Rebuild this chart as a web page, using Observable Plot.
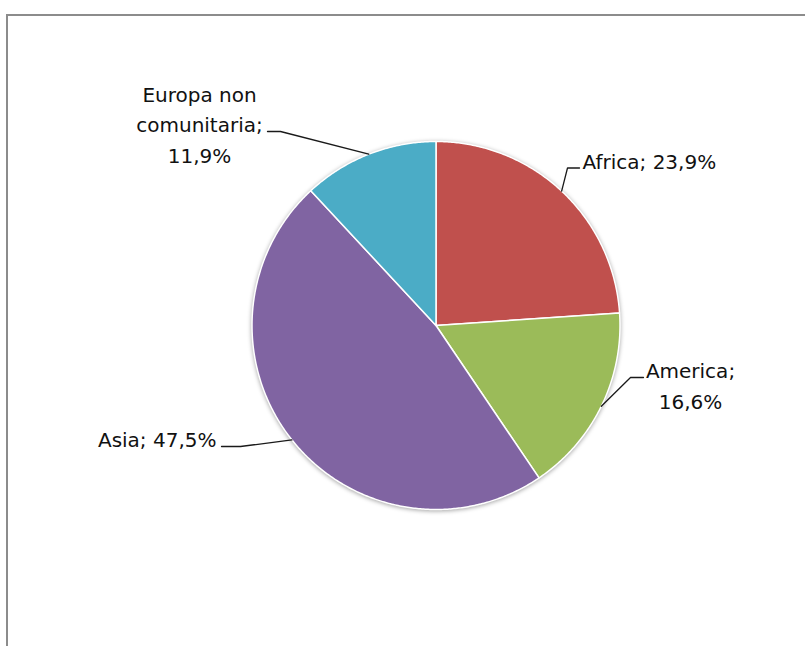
<!DOCTYPE html>
<html>
<head>
<meta charset="utf-8">
<script src="https://cdn.jsdelivr.net/npm/d3@7"></script>
<script src="https://cdn.jsdelivr.net/npm/@observablehq/plot@0.6"></script>
<style>
  html, body { margin: 0; padding: 0; background: #fff; overflow: hidden; }
  #wrap { position: relative; width: 805px; height: 646px; }
  #frame { position: absolute; left: 6px; top: 14px; width: 820px; height: 660px;
           border-left: 2px solid #8c8c8c; border-top: 2px solid #8c8c8c; box-sizing: border-box; }
  #chart { position: absolute; left: 0; top: 0; }
</style>
</head>
<body>
<div id="wrap"><div id="frame"></div><div id="chart"></div></div>
<script>
// ---- data ----
const categories = ["Africa", "America", "Asia", "Europa non comunitaria"];
const values = [23.9, 16.6, 47.5, 11.9];
const labels = ["Africa; 23,9%", "America;\n16,6%", "Asia; 47,5%", "Europa non\ncomunitaria;\n11,9%"];
const colors = ["#C0504D", "#9BBB59", "#8064A2", "#4BACC6"];

// ---- layout (pixels) ----
const cx = 435.5, cy = 325, R = 184;
const labelLayout = [
  {x: 582, y: 168, anchor: "start",  elbow: [567, 167.5], end: [579, 167.5]},
  {x: 690, y: 408, anchor: "middle", elbow: [630, 377],   end: [643, 377]},
  {x: 216, y: 446.5, anchor: "end",  elbow: [240, 446],   end: [221, 446]},
  {x: 199, y: 162, anchor: "middle", elbow: [280, 131],   end: [267, 131]}
];
const ux = px => (px - cx) / R;
const uy = py => (cy - py) / R;

// ---- geometry from data ----
const total = d3.sum(values);
let acc = 0;
const slices = values.map((v, i) => {
  const a0 = acc / total * 2 * Math.PI;
  acc += v;
  const a1 = acc / total * 2 * Math.PI;
  return {category: categories[i], a0, a1, mid: (a0 + a1) / 2};
});
const slicePts = [];
slices.forEach(s => {
  slicePts.push({category: s.category, x: 0, y: 0});
  const n = Math.max(4, Math.ceil((s.a1 - s.a0) / (Math.PI / 360)));
  for (let k = 0; k <= n; k++) {
    const a = s.a0 + (s.a1 - s.a0) * k / n;
    slicePts.push({category: s.category, x: Math.sin(a), y: Math.cos(a)});
  }
  slicePts.push({category: s.category, x: 0, y: 0});
});
const leaderPts = [];
slices.forEach((s, i) => {
  const L = labelLayout[i];
  leaderPts.push({category: s.category, x: Math.sin(s.mid), y: Math.cos(s.mid)});
  leaderPts.push({category: s.category, x: ux(L.elbow[0]), y: uy(L.elbow[1])});
  leaderPts.push({category: s.category, x: ux(L.end[0]), y: uy(L.end[1])});
});

const FS = 20;
const textMarks = slices.map((s, i) => {
  const L = labelLayout[i];
  return Plot.text([{x: ux(L.x), y: uy(L.y), t: labels[i]}], {
    x: "x", y: "y", text: "t", textAnchor: L.anchor, lineAnchor: "bottom",
    lineHeight: 30.5 / FS, fontSize: FS, fill: "#111"
  });
});

const plot = Plot.plot({
  width: 805, height: 646,
  margin: 0,
  style: {fontFamily: "'DejaVu Sans', sans-serif", background: "transparent", overflow: "visible"},
  x: {domain: [-1, 1], range: [cx - R, cx + R], axis: null},
  y: {domain: [-1, 1], range: [cy + R, cy - R], axis: null},
  color: {domain: categories, range: colors},
  marks: [
    Plot.line(slicePts, {x: "x", y: "y", z: "category", fill: "category", stroke: "#fff", strokeWidth: 1.5, curve: "linear-closed"}),
    Plot.line(leaderPts, {x: "x", y: "y", z: "category", stroke: "#1a1a1a", strokeWidth: 1.3}),
    ...textMarks
  ]
});
document.getElementById("chart").appendChild(plot);
const g = plot.querySelector('g[aria-label="line"]');
if (g) g.style.filter = "drop-shadow(0px 1px 2px rgba(0,0,0,0.35))";
</script>
</body>
</html>
